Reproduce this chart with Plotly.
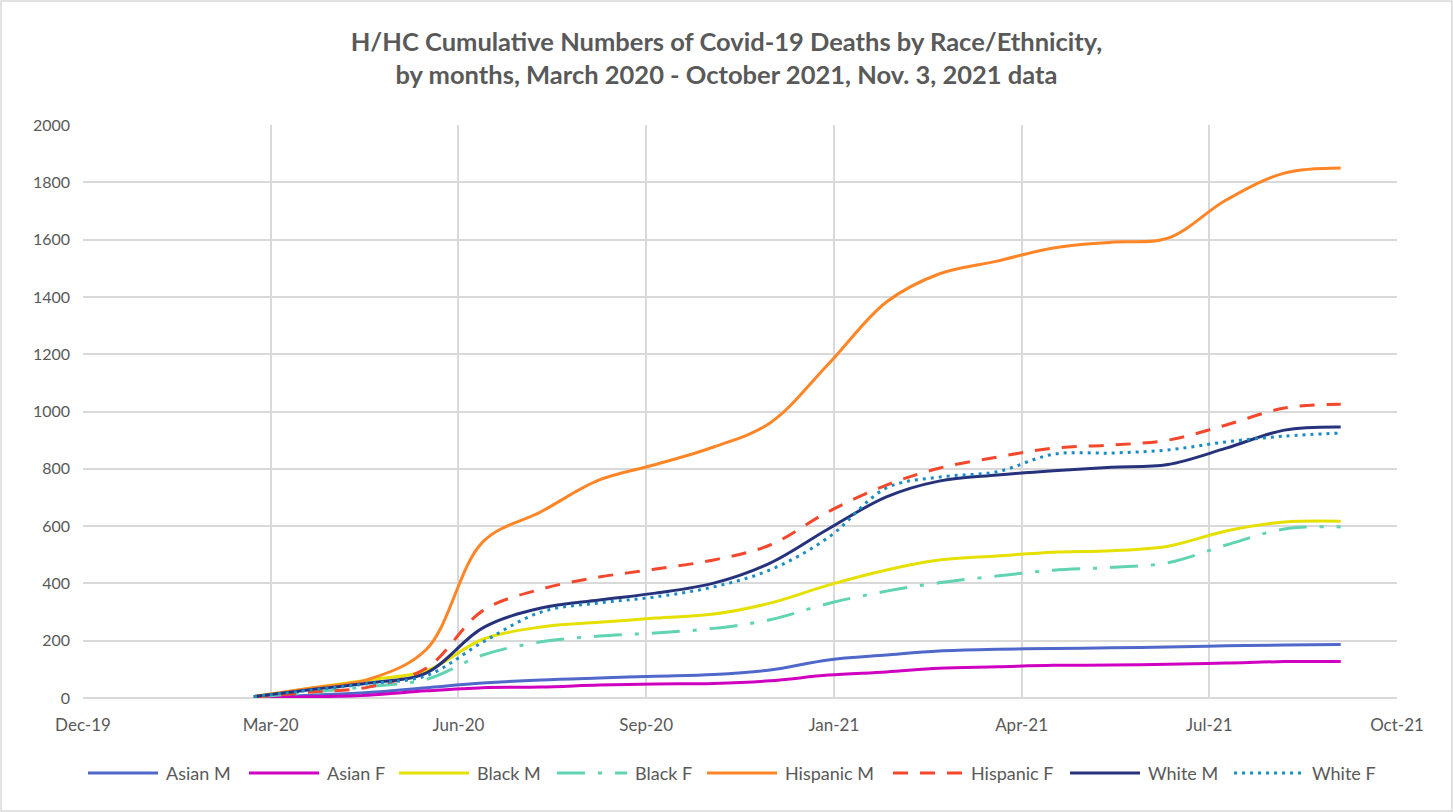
import pandas as pd
import plotly.graph_objects as go

# monthly data points (first of each month), Mar 2020 - Oct 2021
months = ["2020-03-01", "2020-04-01", "2020-05-01", "2020-06-01", "2020-07-01",
          "2020-08-01", "2020-09-01", "2020-10-01", "2020-11-01", "2020-12-01",
          "2021-01-01", "2021-02-01", "2021-03-01", "2021-04-01", "2021-05-01",
          "2021-06-01", "2021-07-01", "2021-08-01", "2021-09-01", "2021-10-01"]

asian_m = [2, 10, 19, 36, 52, 63, 70, 76, 82, 98, 133, 150, 164, 170, 173, 175, 178, 182, 185, 187]
asian_f = [0, 4, 10, 25, 36, 38, 45, 49, 51, 60, 80, 91, 104, 109, 114, 115, 118, 122, 127, 127]
black_m = [5, 35, 63, 95, 205, 248, 264, 279, 293, 331, 394, 447, 482, 496, 509, 514, 530, 583, 614, 617]
black_f = [3, 20, 40, 65, 150, 196, 216, 227, 243, 273, 330, 373, 402, 426, 446, 456, 472, 534, 590, 597]
hisp_m = [5, 35, 65, 170, 545, 650, 761, 815, 876, 960, 1165, 1382, 1480, 1525, 1571, 1591, 1605, 1738, 1832, 1850]
hisp_f = [3, 21, 38, 105, 305, 380, 422, 450, 482, 534, 650, 743, 802, 841, 872, 883, 900, 953, 1012, 1025]
white_m = [5, 30, 52, 88, 245, 314, 342, 366, 401, 471, 590, 702, 757, 778, 793, 805, 815, 872, 935, 946]
white_f = [5, 28, 50, 78, 195, 300, 332, 353, 388, 447, 560, 733, 771, 790, 851, 855, 866, 894, 914, 925]

series = [
    ("Asian M", asian_m, "#5068C9", "solid"),
    ("Asian F", asian_f, "#D000C0", "solid"),
    ("Black M", black_m, "#E6E000", "solid"),
    ("Black F", black_f, "#60D3B3", "28px,13px,4px,13px"),
    ("Hispanic M", hisp_m, "#FF8526", "solid"),
    ("Hispanic F", hisp_f, "#F4472B", "15px,12px"),
    ("White M", white_m, "#26337C", "solid"),
    ("White F", white_f, "#1A8CC4", "3px,5px"),
]

tick_labels = ["Dec-19", "Mar-20", "Jun-20", "Sep-20", "Jan-21", "Apr-21", "Jul-21", "Oct-21"]
tick_dates = pd.date_range("2019-12-01", periods=len(tick_labels), freq="100D")

# left edge (px) of each legend sample line, as laid out in the original
legend_px = [88, 249, 399, 557, 707, 893, 1070, 1234]
LEG_Y = 773
LEG_LEN = 70

FONT = "Lato"
GREY = "#595959"
GRID = "#D9D9D9"

W, H = 1453, 812
L, R, T, B = 83, 56, 125, 114
pw, ph = W - L - R, H - T - B
BOTTOM = H - B


def px_x(p):
    return (p - L) / pw


def px_y(p):
    return (BOTTOM - p) / ph


fig = go.Figure()
for name, vals, color, dash in series:
    fig.add_trace(go.Scatter(
        x=months, y=vals, name=name, mode="lines",
        line=dict(color=color, width=3, dash=dash, shape="spline"),
        showlegend=False,
    ))

# legend drawn by hand so the sample lines are as long as in the original
for (name, vals, color, dash), lx in zip(series, legend_px):
    fig.add_shape(type="line", xref="paper", yref="paper",
                  x0=px_x(lx), x1=px_x(lx + LEG_LEN), y0=px_y(LEG_Y), y1=px_y(LEG_Y),
                  line=dict(color=color, width=3, dash=dash))
    fig.add_annotation(text=name, xref="paper", yref="paper",
                       x=px_x(lx + LEG_LEN + 6), y=px_y(LEG_Y),
                       xanchor="left", yanchor="middle", showarrow=False,
                       font=dict(family=FONT, size=18, color=GREY))

fig.update_layout(
    width=W, height=H,
    margin=dict(l=L, r=R, t=T, b=B),
    paper_bgcolor="white", plot_bgcolor="white",
    font=dict(family=FONT, color=GREY, size=16),
    title=dict(
        text="H/HC Cumulative Numbers of Covid-19 Deaths by Race/Ethnicity,<br>by months, March 2020 - October 2021, Nov. 3, 2021 data",
        x=0.5, xanchor="center", y=1 - 51 / H, yanchor="top",
        font=dict(family=FONT, size=25.5, color=GREY, weight="bold"),
    ),
    xaxis=dict(
        type="date",
        range=[tick_dates[0], tick_dates[-1]],
        tickvals=tick_dates, ticktext=tick_labels,
        showgrid=True, gridcolor=GRID, gridwidth=1.5,
        showline=False, zeroline=False, ticks="", ticklabelstandoff=15,
        tickfont=dict(size=17, color=GREY),
    ),
    yaxis=dict(
        range=[0, 2000], dtick=200,
        showgrid=True, gridcolor=GRID, gridwidth=1.5,
        zeroline=True, zerolinecolor=GRID, zerolinewidth=1.5,
        showline=False, ticks="", ticklabelstandoff=12,
        tickfont=dict(size=16, color=GREY),
    ),
    showlegend=False,
)

# light chart border around the whole figure
fig.add_shape(type="rect", xref="paper", yref="paper",
              x0=px_x(1), x1=px_x(W - 1), y0=px_y(H - 1), y1=px_y(1),
              line=dict(color=GRID, width=1.5), fillcolor="rgba(0,0,0,0)", layer="below")

fig.write_html("out.html", config={"displayModeBar": False},
               post_script="document.body.style.margin='0';")
